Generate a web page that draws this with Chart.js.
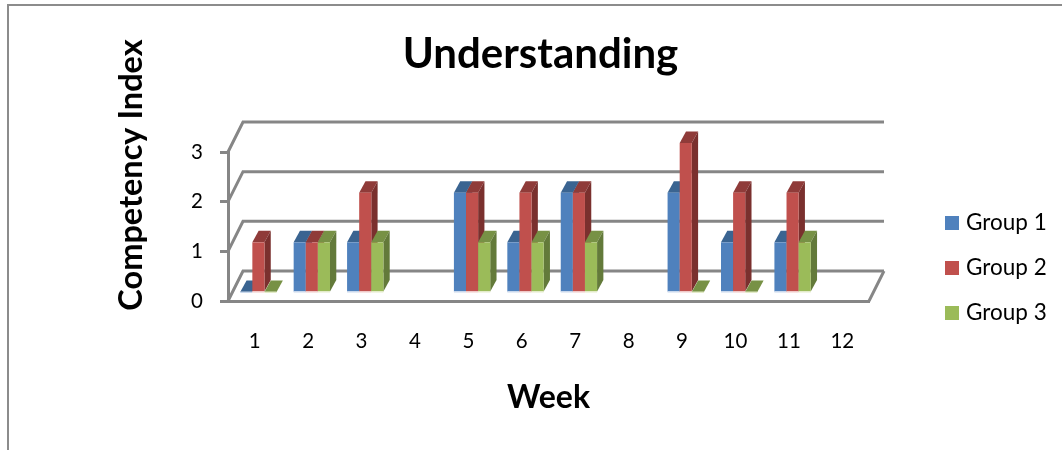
<!DOCTYPE html>
<html>
<head>
<meta charset="utf-8">
<style>html,body{margin:0;padding:0;background:#fff}canvas{display:block}</style>
<script src="https://cdn.jsdelivr.net/npm/chart.js@4/dist/chart.umd.min.js"></script>
</head>
<body>
<canvas id="c" width="1062" height="450"></canvas>
<script>
const weeks = ['1','2','3','4','5','6','7','8','9','10','11','12'];
const group1 = [0, 1, 1, null, 2, 1, 2, null, 2, 1, 1, null];
const group2 = [1, 1, 2, null, 2, 2, 2, null, 3, 2, 2, null];
const group3 = [0, 1, 1, null, 1, 1, 1, null, 0, 0, 1, null];
const seriesNames = ['Group 1', 'Group 2', 'Group 3'];
const chartTitle = 'Understanding';
const xTitle = 'Week';
const yTitle = 'Competency Index';

const front = ['#4F81BD', '#C0504D', '#9BBB59'];
const topFace = ['#3A6491', '#8F3B39', '#779145'];
const sideFace = ['#335A85', '#7A302E', '#637A3A'];
const baseEdge = ['#C9D8EC', '#F0C9C8', '#E3EBC9'];
const axisGrey = '#868686';
const FONT = 'Lato, Carlito, sans-serif';

// Projection of the 3D box: wall depth, bar depth, and where bars sit on the floor
const wall = {dx: 15, dy: -30};
const bar = {dx: 6.3, dy: -11.5};
const floorShift = {dx: 3.7, dy: -9};

function poly(ctx, pts, fill) {
  ctx.beginPath();
  pts.forEach((p, i) => i ? ctx.lineTo(p[0], p[1]) : ctx.moveTo(p[0], p[1]));
  ctx.closePath();
  ctx.fillStyle = fill;
  ctx.fill();
}

// Legend key: a small square painted on its own canvas, so the label can sit close to it
function swatch(color) {
  const c = document.createElement('canvas');
  c.width = 14;
  c.height = 14;
  const g = c.getContext('2d');
  g.fillStyle = color;
  g.fillRect(0, 0, 14, 14);
  return c;
}

const box3d = {
  id: 'box3d',
  beforeDraw(chart) {
    const ctx = chart.ctx;
    ctx.save();
    ctx.fillStyle = '#fff';
    ctx.fillRect(0, 0, chart.width, chart.height);
    // outer chart frame, open to the right and bottom
    ctx.strokeStyle = '#8C8C8C';
    ctx.lineWidth = 2;
    ctx.beginPath();
    ctx.moveTo(8, 450);
    ctx.lineTo(8, 5);
    ctx.lineTo(1062, 5);
    ctx.stroke();
    ctx.restore();
  },
  afterLayout(chart) {
    // side legend, given room for all rows, and the off-centre title
    const l = chart.legend;
    l.update(200, 400, {top: 0, right: 0, bottom: 0, left: 0});
    const w = l.right - l.left, h = l.bottom - l.top;
    l.left = 926.75; l.right = 926.75 + w;
    l.top = 189; l.bottom = 189 + h;
    chart.titleBlock.left += 106;
    chart.titleBlock.right += 106;
  },
  beforeDatasetsDraw(chart) {
    const ctx = chart.ctx;
    const {x, y} = chart.scales;
    const l = x.left, r = x.right;
    ctx.save();
    ctx.strokeStyle = axisGrey;
    ctx.lineWidth = 3;
    ctx.lineCap = 'butt';
    // back wall rules and the left wall diagonals
    y.ticks.forEach(t => {
      const py = y.getPixelForValue(t.value);
      ctx.beginPath();
      ctx.moveTo(l, py);
      ctx.lineTo(l + wall.dx, py + wall.dy);
      ctx.lineTo(r + wall.dx, py + wall.dy);
      ctx.stroke();
    });
    // right edge of the floor
    const p0 = y.getPixelForValue(0);
    ctx.beginPath();
    ctx.moveTo(r + wall.dx, p0 + wall.dy);
    ctx.lineTo(r, p0);
    ctx.stroke();
    ctx.restore();

    // bars, left to right, each as top, side and front faces
    const count = chart.data.labels.length;
    for (let i = 0; i < count; i++) {
      chart.data.datasets.forEach((ds, d) => {
        const el = chart.getDatasetMeta(d).data[i];
        if (ds.data[i] === null) return;
        const x0 = el.x - el.width / 2 + floorShift.dx;
        const x1 = x0 + el.width;
        const yt = el.y + floorShift.dy;
        const yb = el.base + floorShift.dy;
        poly(ctx, [[x0, yt], [x1, yt], [x1 + bar.dx, yt + bar.dy], [x0 + bar.dx, yt + bar.dy]], topFace[d]);
        poly(ctx, [[x1, yt], [x1 + bar.dx, yt + bar.dy], [x1 + bar.dx, yb + bar.dy], [x1, yb]], sideFace[d]);
        if (yb > yt) {
          ctx.fillStyle = ds.backgroundColor;
          ctx.fillRect(x0, yt, el.width, yb - yt);
        }
        ctx.fillStyle = baseEdge[d];
        ctx.fillRect(x0, yb - 0.5, el.width, 1.5);
      });
    }
    return false;
  },
  afterDraw(chart) {
    // value axis caption, centred on the upper part of the axis
    const ctx = chart.ctx;
    ctx.save();
    ctx.translate(132, 175);
    ctx.rotate(-Math.PI / 2);
    ctx.font = 'bold 32.5px ' + FONT;
    ctx.fillStyle = '#000';
    ctx.textAlign = 'center';
    ctx.textBaseline = 'middle';
    ctx.fillText(yTitle, 0, 0);
    ctx.restore();
  }
};

new Chart(document.getElementById('c'), {
  type: 'bar',
  data: {
    labels: weeks,
    datasets: [
      {label: seriesNames[0], data: group1, backgroundColor: front[0]},
      {label: seriesNames[1], data: group2, backgroundColor: front[1]},
      {label: seriesNames[2], data: group3, backgroundColor: front[2]}
    ]
  },
  options: {
    responsive: false,
    animation: false,
    barPercentage: 1,
    categoryPercentage: 0.68,
    layout: {padding: {left: 0, right: 193, top: 0, bottom: 0}},
    plugins: {
      tooltip: {enabled: false},
      title: {
        display: true,
        text: chartTitle,
        color: '#000',
        font: {family: FONT, size: 42, weight: 'bold'},
        padding: {top: 29, bottom: 72.6}
      },
      legend: {
        position: 'chartArea',
        align: 'start',
        labels: {
          usePointStyle: true,
          boxWidth: 5.5,
          boxHeight: 14,
          padding: 22.5,
          color: '#000',
          font: {family: FONT, size: 22.5},
          generateLabels(chart) {
            return Chart.defaults.plugins.legend.labels.generateLabels(chart).map(item => {
              item.pointStyle = swatch(item.fillStyle);
              return item;
            });
          }
        }
      }
    },
    scales: {
      x: {
        afterFit(s) { s.height = 149; },
        grid: {display: true, drawOnChartArea: false, drawTicks: false},
        border: {display: true, color: axisGrey, width: 3},
        ticks: {color: '#000', padding: 28, maxRotation: 0, autoSkip: false, font: {family: FONT, size: 20.5}},
        title: {
          display: true,
          text: xTitle,
          color: '#000',
          font: {family: FONT, size: 32, weight: 'bold'},
          padding: {top: 0, bottom: 33}
        }
      },
      y: {
        min: 0,
        max: 3,
        afterFit(s) { s.width = 228; },
        grid: {drawOnChartArea: false, drawTicks: true, tickLength: 8, tickColor: axisGrey, tickWidth: 3},
        border: {display: true, color: axisGrey, width: 3},
        ticks: {stepSize: 1, color: '#000', padding: 17, font: {family: FONT, size: 20.5}}
      }
    }
  },
  plugins: [box3d]
});
</script>
</body>
</html>
